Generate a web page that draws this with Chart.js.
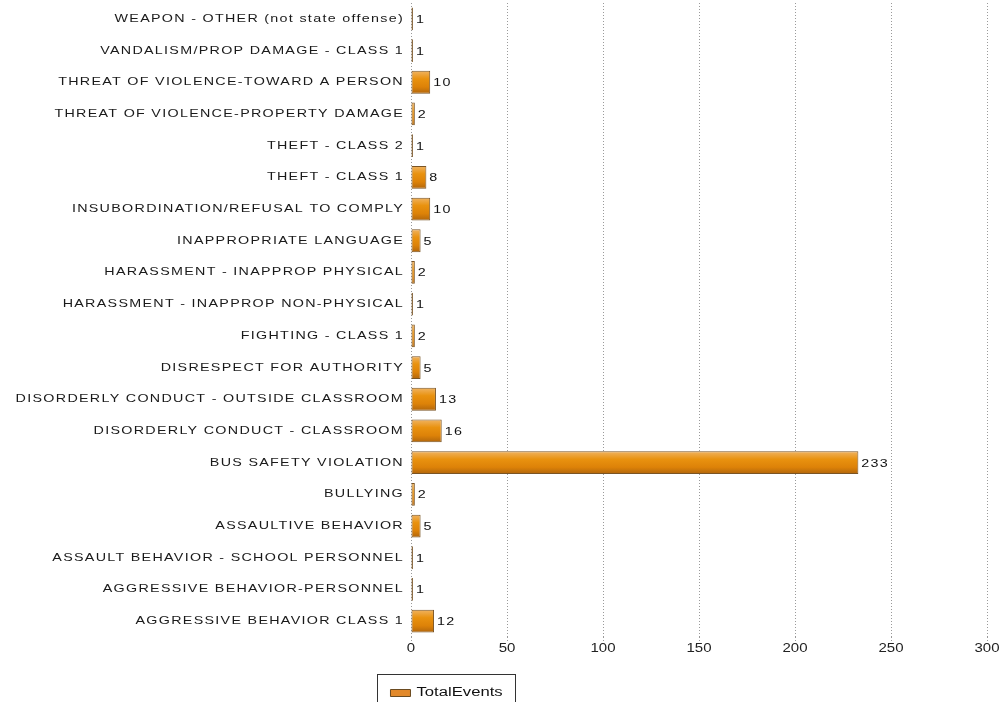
<!DOCTYPE html>
<html>
<head>
<meta charset="utf-8">
<script src="https://cdn.jsdelivr.net/npm/chart.js@4/dist/chart.umd.min.js"></script>
<style>
html,body{margin:0;padding:0;background:#fff;}
canvas{display:block;}
</style>
</head>
<body>
<canvas id="c" width="1003" height="702"></canvas>
<script>
// ---- data (top-to-bottom order as shown) ----
const categories = [
  "WEAPON - OTHER (not state offense)",
  "VANDALISM/PROP DAMAGE - CLASS 1",
  "THREAT OF VIOLENCE-TOWARD A PERSON",
  "THREAT OF VIOLENCE-PROPERTY DAMAGE",
  "THEFT - CLASS 2",
  "THEFT - CLASS 1",
  "INSUBORDINATION/REFUSAL TO COMPLY",
  "INAPPROPRIATE LANGUAGE",
  "HARASSMENT - INAPPROP PHYSICAL",
  "HARASSMENT - INAPPROP NON-PHYSICAL",
  "FIGHTING - CLASS 1",
  "DISRESPECT FOR AUTHORITY",
  "DISORDERLY CONDUCT - OUTSIDE CLASSROOM",
  "DISORDERLY CONDUCT - CLASSROOM",
  "BUS SAFETY VIOLATION",
  "BULLYING",
  "ASSAULTIVE BEHAVIOR",
  "ASSAULT BEHAVIOR - SCHOOL PERSONNEL",
  "AGGRESSIVE BEHAVIOR-PERSONNEL",
  "AGGRESSIVE BEHAVIOR CLASS 1"
];
const totalEvents = [1, 1, 10, 2, 1, 8, 10, 5, 2, 1, 2, 5, 13, 16, 233, 2, 5, 1, 1, 12];
const seriesName = "TotalEvents";
const xMin = 0, xMax = 300, xStep = 50;

const FONT = "'Liberation Sans', Arial, sans-serif";
Chart.defaults.font.family = FONT;
Chart.defaults.font.size = 11;
Chart.defaults.color = '#111';

const SOLID_ORANGE = '#E2892A';

// the original's text is drawn horizontally widened; emulate with a per-text x-scale
function stretched(ctx, s, spacing, fn) {
  const proto = CanvasRenderingContext2D.prototype.fillText;
  ctx.save();
  ctx.letterSpacing = spacing;
  ctx.fillText = function (t, x, y, mw) {
    this.save();
    this.translate(x, y);
    this.scale(s, 1);
    if (mw === undefined) proto.call(this, t, 0, 0);
    else proto.call(this, t, 0, 0, mw / s);
    this.restore();
  };
  try { fn(); } finally { delete ctx.fillText; ctx.restore(); }
}

function barFill(ctx) {
  const chart = ctx.chart;
  if (ctx.type !== 'data' || !chart.chartArea) return SOLID_ORANGE;
  const y = chart.scales.y.getPixelForValue(ctx.dataIndex);
  const g = chart.ctx.createLinearGradient(0, y - 11.5, 0, y + 11.5);
  g.addColorStop(0, '#F0B464');
  g.addColorStop(0.35, '#E9920F');
  g.addColorStop(0.7, '#DD8208');
  g.addColorStop(1, '#B0650C');
  return g;
}

const stylePlugin = {
  id: 'stylePlugin',
  afterUpdate(chart) {
    const ys = chart.scales.y;
    if (ys && !ys._patched) {
      const o = ys.drawLabels;
      ys.drawLabels = function (area) { stretched(this.ctx, 1.3, '1px', () => o.call(this, area)); };
      ys._patched = true;
    }
    const xs = chart.scales.x;
    if (xs && !xs._patched) {
      const o = xs.drawLabels;
      xs.drawLabels = function (area) { stretched(this.ctx, 1.25, '0px', () => o.call(this, area)); };
      xs._patched = true;
    }
    const lg = chart.legend;
    if (lg && !lg._patched) {
      const o = lg.draw;
      lg.draw = function (area) { stretched(this.ctx, 1.39, '0px', () => o.call(this, area)); };
      lg._patched = true;
    }
  },
  afterLayout(chart) {
    if (chart.legend) {
      chart.legend.left = 0;
      chart.legend.right = 869;
    }
  },
  afterDatasetsDraw(chart) {
    const c = chart.ctx;
    const meta = chart.getDatasetMeta(0);
    const data = chart.data.datasets[0].data;
    c.save();
    c.font = "11px " + FONT;
    c.fillStyle = '#111';
    c.textBaseline = 'middle';
    c.textAlign = 'left';
    stretched(c, 1.3, '1px', () => {
      meta.data.forEach((el, i) => {
        c.fillText(String(data[i]), el.x + 3, el.y + 1);
      });
    });
    c.restore();
  },
  afterDraw(chart) {
    const lg = chart.legend;
    if (!lg || !lg.legendHitBoxes || !lg.legendHitBoxes.length) return;
    const hb = lg.legendHitBoxes[0];
    const c = chart.ctx;
    c.save();
    c.strokeStyle = '#333';
    c.lineWidth = 1;
    const l = Math.round(hb.left - 13) + 0.5;
    const r = Math.round(hb.left + hb.width + 36) + 0.5;
    const t = Math.round(hb.top - 13) + 0.5;
    c.strokeRect(l, t, r - l, 40);
    c.restore();
  }
};

new Chart(document.getElementById('c'), {
  type: 'bar',
  data: {
    labels: categories,
    datasets: [{
      label: seriesName,
      data: totalEvents,
      backgroundColor: barFill,
      borderColor: '#7A5424',
      borderWidth: 1,
      borderSkipped: false,
      barPercentage: 0.72,
      categoryPercentage: 1.0
    }]
  },
  options: {
    indexAxis: 'y',
    responsive: false,
    animation: false,
    layout: { padding: { top: 3, right: 16, bottom: -7, left: 0 } },
    plugins: {
      legend: {
        position: 'bottom',
        align: 'center',
        labels: {
          boxWidth: 20,
          boxHeight: 7,
          padding: 4,
          color: '#111',
          font: { size: 12 },
          generateLabels(chart) {
            return Chart.defaults.plugins.legend.labels.generateLabels(chart).map(it => {
              it.fillStyle = SOLID_ORANGE;
              it.strokeStyle = '#6A4A20';
              it.lineWidth = 1;
              return it;
            });
          }
        }
      },
      tooltip: { enabled: false },
      title: { display: false }
    },
    scales: {
      x: {
        type: 'linear',
        min: xMin,
        max: xMax,
        ticks: { stepSize: xStep, padding: -2, color: '#222', font: { size: 12 } },
        grid: {
          color: '#9a9a9a',
          lineWidth: 1,
          drawTicks: true,
          tickLength: 6,
          tickColor: '#9a9a9a',
          tickBorderDash: [1, 2]
        },
        border: { display: false, dash: [1, 2] },
        afterFit(scale) { scale.height = 46; }
      },
      y: {
        type: 'category',
        ticks: { autoSkip: false, padding: 7, color: '#1a1a1a', font: { size: 11 } },
        grid: { display: false, drawTicks: false },
        border: { display: false },
        afterFit(scale) { scale.width = 411; scale.paddingTop = 0; scale.paddingBottom = 0; }
      }
    }
  },
  plugins: [stylePlugin]
});
</script>
</body>
</html>
